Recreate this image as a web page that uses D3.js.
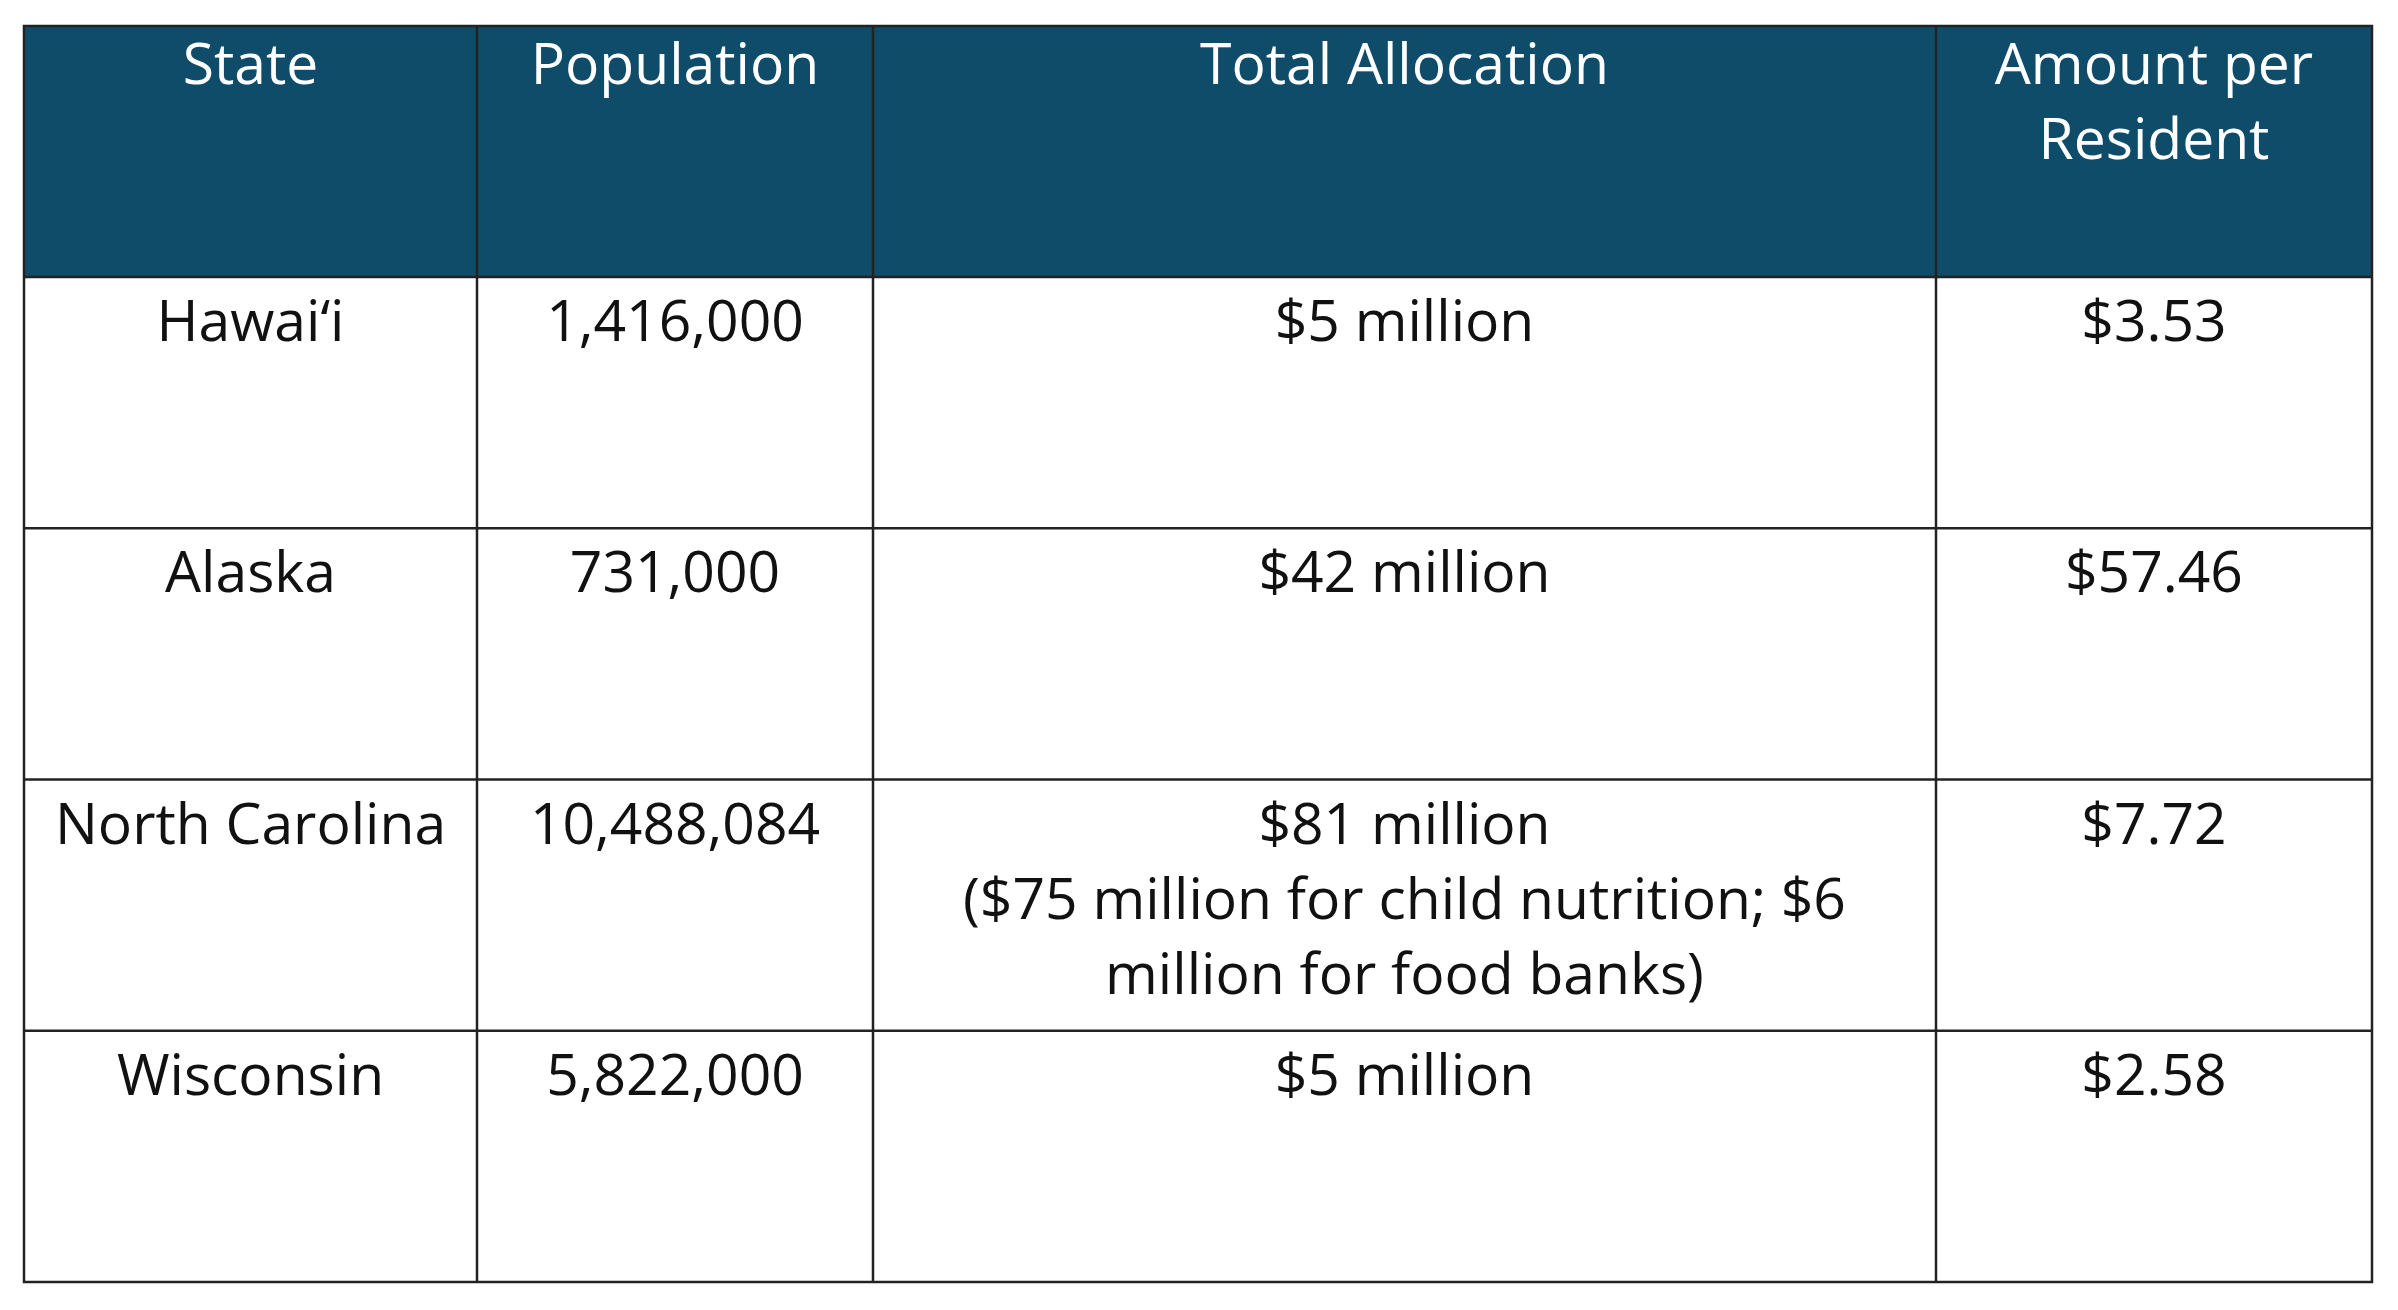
<!DOCTYPE html>
<html><head><meta charset="utf-8">
<script src="https://cdn.jsdelivr.net/npm/d3@7"></script>
<style>body{margin:0;background:#fff}</style>
</head><body>
<svg id="t" width="2398" height="1310"></svg>
<script>
const headers=[["State"],["Population"],["Total Allocation"],["Amount per","Resident"]];
const states=["Hawai‘i","Alaska","North Carolina","Wisconsin"];
const populations=["1,416,000","731,000","10,488,084","5,822,000"];
const allocations=[["$5 million"],["$42 million"],["$81 million","($75 million for child nutrition; $6","million for food banks)"],["$5 million"]];
const perResident=["$3.53","$57.46","$7.72","$2.58"];

const svg=d3.select("#t");
const tLeft=24,tRight=2372,tTop=26,headH=251,rowH=251.25;
// column edges
const edges=[tLeft,477,873,1936,tRight];
const y=d3.scaleBand().domain(d3.range(states.length)).range([tTop+headH,tTop+headH+rowH*states.length]).paddingInner(0);
const fs=57,lh=75;

svg.append("rect").attr("x",tLeft).attr("y",tTop).attr("width",tRight-tLeft).attr("height",headH).attr("fill","#0f4c6a");

const rows=states.map((s,i)=>[[s],[populations[i]],allocations[i],[perResident[i]]]);

function cellText(lines,col,y0,color,weight){
  const cx=(edges[col]+edges[col+1])/2;
  const t=svg.append("text").attr("x",cx).attr("y",y0).attr("text-anchor","middle")
    .attr("font-family","'Open Sans',sans-serif").attr("font-size",fs).attr("fill",color).attr("font-weight",weight);
  lines.forEach((l,k)=>t.append("tspan").attr("x",cx).attr("dy",k?lh:0).text(l));
}
headers.forEach((h,c)=>cellText(h,c,tTop+58,"#fff",500));
rows.forEach((r,i)=>r.forEach((cell,c)=>cellText(cell,c,y(i)+64,"#111",400)));

// grid lines
const g=svg.append("g").attr("stroke","#222").attr("stroke-width",2.5).attr("fill","none");
g.append("rect").attr("x",tLeft).attr("y",tTop).attr("width",tRight-tLeft).attr("height",headH+rowH*states.length);
edges.slice(1,-1).forEach(x=>g.append("line").attr("x1",x).attr("x2",x).attr("y1",tTop).attr("y2",tTop+headH+rowH*states.length));
d3.range(states.length).forEach(i=>g.append("line").attr("x1",tLeft).attr("x2",tRight).attr("y1",y(i)).attr("y2",y(i)));
</script>
</body></html>
